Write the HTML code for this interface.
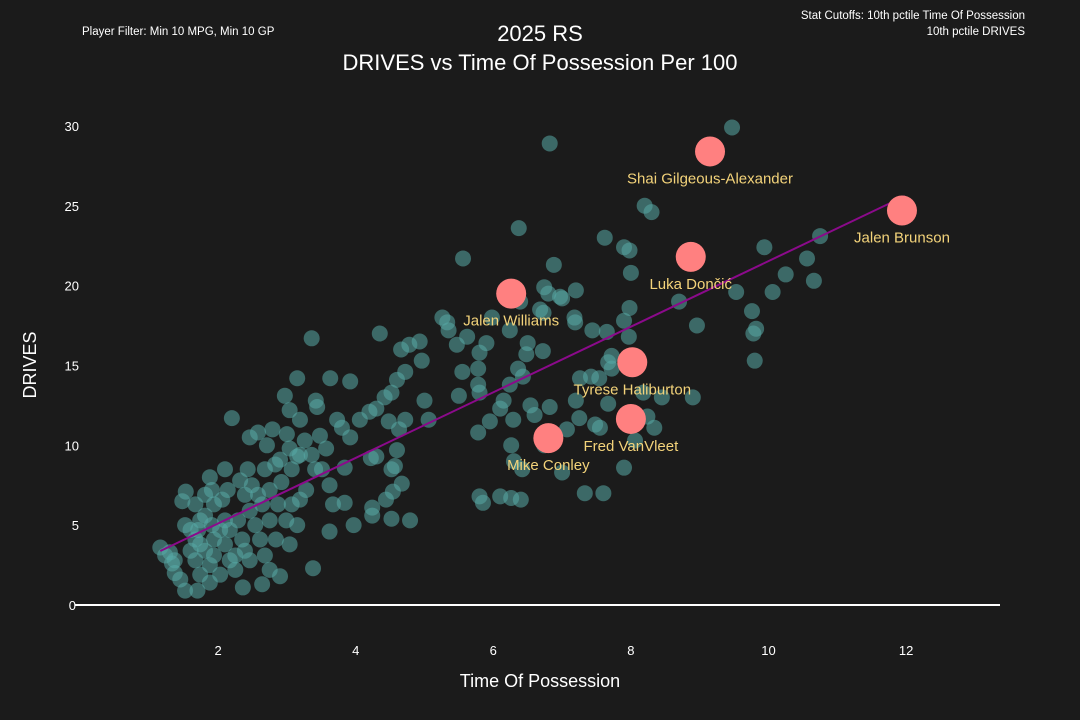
<!DOCTYPE html>
<html><head><meta charset="utf-8"><style>
body{margin:0;background:#1b1b1b;}
svg{display:block;font-family:"Liberation Sans","DejaVu Sans",sans-serif;}
</style></head><body>
<svg id="c" width="1080" height="720">
<rect width="1080" height="720" fill="#1b1b1b"/>
<text x="82" y="35" fill="#fff" font-size="11.5">Player Filter: Min 10 MPG, Min 10 GP</text>
<text x="1025" y="19" fill="#fff" font-size="11.5" text-anchor="end">Stat Cutoffs: 10th pctile Time Of Possession</text>
<text x="1025" y="35" fill="#fff" font-size="11.5" text-anchor="end">10th pctile DRIVES</text>
<text x="540" y="41" fill="#fff" font-size="22" text-anchor="middle">2025 RS</text>
<text x="540" y="70" fill="#fff" font-size="22" text-anchor="middle">DRIVES vs Time Of Possession Per 100</text>
<text x="540" y="687" fill="#fff" font-size="18" text-anchor="middle">Time Of Possession</text>
<text transform="translate(36,365) rotate(-90)" fill="#fff" font-size="18" text-anchor="middle">DRIVES</text>
<g id="g"></g>
</svg>
<script>
const xTicks=[2,4,6,8,10,12];
const yTicks=[0,5,10,15,20,25,30];
const bgX=[9.47,6.82,8.2,8.3,6.37,7.62,7.9,7.98,9.94,10.75,10.56,10.25,10.06,9.53,10.66,5.56,6.88,8.0,6.74,6.8,6.97,7.0,7.2,6.39,7.98,8.7,9.76,9.78,9.82,9.8,8.96,7.9,7.97,7.65,7.72,7.44,7.18,7.19,6.68,6.73,6.24,5.98,5.9,6.5,6.48,6.72,7.42,7.26,7.54,7.67,7.72,8.18,8.45,8.9,7.67,7.2,7.07,7.48,7.55,8.34,8.24,6.6,6.54,6.1,6.29,5.78,5.95,6.15,6.24,5.78,5.8,5.78,5.55,5.5,5.0,5.06,5.8,5.62,5.47,5.35,5.33,5.26,6.43,6.36,
6.26,6.3,6.42,7.0,6.74,7.9,7.6,7.33,6.1,6.26,6.4,5.8,5.85,8.06,7.25,6.82,
4.78,4.66,4.96,4.93,4.35,4.72,4.6,4.52,4.42,4.3,4.2,4.48,4.72,4.63,4.6,4.3,4.22,4.57,4.52,4.67,4.54,4.44,4.24,4.24,4.52,4.79,3.97,3.62,3.38,3.84,3.67,3.62,3.84,3.92,3.8,4.06,3.92,3.63,3.36,3.15,3.42,3.44,3.73,3.48,3.57,3.51,3.28,3.41,2.92,3.15,3.07,3.04,3.0,3.04,2.97,3.19,
1.16,1.3,1.33,1.37,1.45,1.52,1.7,1.88,1.48,1.53,1.6,1.67,1.74,1.81,1.88,1.91,1.94,2.03,2.1,2.17,2.25,2.32,2.39,2.46,2.54,2.61,2.68,2.75,2.36,2.64,2.9,2.2,2.46,2.58,2.68,2.83,2.9,2.75,2.99,3.07,3.15,3.04,2.87,2.64,2.43,2.1,2.06,1.81,1.67,2.29,2.14,2.25,2.46,1.88,1.74,1.67,1.6,2.03,1.52,1.81,1.94,2.35,2.75,2.84,2.58,2.49,3.19,3.26,2.71,2.79,3.19,3.36,1.37,1.23,1.74,1.94,2.17,2.39,2.1,1.91,1.71];
const bgY=[29.9,28.9,25.0,24.6,23.6,23.0,22.4,22.2,22.4,23.1,21.7,20.7,19.6,19.6,20.3,21.7,21.3,20.8,19.9,19.5,19.3,19.2,19.7,19.0,18.6,19.0,18.4,17.0,17.3,15.3,17.5,17.8,16.8,17.1,15.6,17.2,18.0,17.7,18.5,18.3,17.2,18.0,16.4,16.4,15.7,15.9,14.3,14.2,14.2,15.2,14.8,13.3,13.0,13.0,12.6,12.8,11.0,11.3,11.1,11.1,11.8,11.9,12.5,12.3,11.6,10.8,11.5,12.8,13.8,13.8,13.3,14.8,14.6,13.1,12.8,11.6,15.8,16.8,16.3,17.2,17.7,18.0,14.3,14.8,
10.0,9.0,8.5,8.3,10.0,8.6,7.0,7.0,6.8,6.7,6.6,6.8,6.4,10.3,11.7,12.4,
16.3,16.0,15.3,16.5,17.0,14.6,14.1,13.3,13.0,12.3,12.1,11.5,11.6,11.0,9.7,9.3,9.2,8.7,8.5,7.6,7.1,6.6,6.1,5.6,5.4,5.3,5.0,4.6,2.3,6.4,6.3,7.5,8.6,10.5,11.1,11.6,14.0,14.2,16.7,14.2,12.8,12.4,11.6,10.6,9.8,8.5,7.2,8.5,7.7,9.3,8.5,9.8,10.7,12.2,13.1,11.6,
3.6,3.3,2.6,2.0,1.6,0.9,0.9,1.4,6.5,7.1,4.7,4.1,5.3,3.4,8.0,7.2,6.3,4.7,3.8,2.8,2.2,7.8,6.9,5.9,5.0,4.1,3.1,2.2,1.1,1.3,1.8,11.7,10.5,10.8,8.5,8.8,9.1,7.2,5.3,6.3,5.0,3.8,6.3,6.3,8.5,8.5,6.6,5.6,6.3,5.3,7.2,3.1,2.8,2.5,1.9,2.8,3.4,1.9,5.0,6.9,3.1,4.1,5.3,4.1,6.9,7.5,9.4,10.3,10.0,11.0,6.6,9.4,2.8,3.1,3.8,4.1,4.7,3.4,5.3,5.0,4.7];
const hiNames=["Shai Gilgeous-Alexander","Jalen Brunson","Luka Dončić","Jalen Williams","Tyrese Haliburton","Fred VanVleet","Mike Conley"];
const hiX=[9.15,11.94,8.87,6.26,8.02,8.0,6.8];
const hiY=[28.4,24.7,21.8,19.5,15.2,11.65,10.45];
const fitX=[1.16,11.98];
const fitY=[3.38,25.6];

const sx=v=>80.5+v*68.8, sy=v=>605-v*15.97;
const NS="http://www.w3.org/2000/svg", g=document.getElementById('g');
function mk(t,a,txt){const e=document.createElementNS(NS,t);for(const k in a)e.setAttribute(k,a[k]);if(txt!=null)e.textContent=txt;g.appendChild(e);return e;}
let e=mk('line',{x1:75,x2:1000,y1:sy(0),y2:sy(0),stroke:'#fff','stroke-width':2});


xTicks.forEach(t=>{const el=mk('text',{x:sx(t),y:655,fill:'#fff','font-size':13,'text-anchor':'middle'},t);

});
yTicks.forEach(t=>{const el=mk('text',{x:t===0?76:79,y:sy(t)+5,fill:'#fff','font-size':13,'text-anchor':'end'},t);

});
bgX.forEach((x,i)=>{const c=mk('circle',{cx:sx(x),cy:sy(bgY[i]),r:8,fill:'#58aaa5','fill-opacity':0.55});

});
const ln=mk('line',{x1:sx(fitX[0]),y1:sy(fitY[0]),x2:sx(fitX[1]),y2:sy(fitY[1]),stroke:'#8b0a8b','stroke-width':2});


hiX.forEach((x,i)=>{const c=mk('circle',{cx:sx(x),cy:sy(hiY[i]),r:15,fill:'#ff8080'});


const t=mk('text',{x:sx(x),y:sy(hiY[i])+32,fill:'#f3d37a','font-size':15,'text-anchor':'middle'},hiNames[i]);

});
</script>
</body></html>
